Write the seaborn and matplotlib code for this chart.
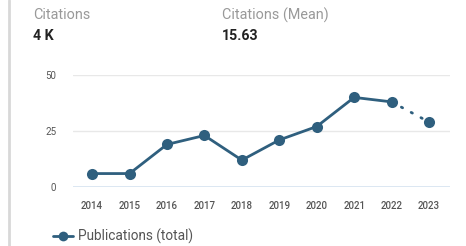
# Publications per year, with citation summary header
import seaborn as sns
import matplotlib.pyplot as plt
import pandas as pd
from matplotlib.lines import Line2D

years = ["2014", "2015", "2016", "2017", "2018", "2019", "2020", "2021", "2022", "2023"]
publications = [6, 6, 19, 23, 12, 21, 27, 40, 38, 29]
y_ticks = [0, 25, 50]

df = pd.DataFrame({"year": years, "pos": range(len(years)), "pubs": publications})

sns.set_style("white")
plt.rcParams["font.family"] = ["Roboto", "DejaVu Sans"]

line_color = "#2f5f7e"

fig = plt.figure(figsize=(4.66, 2.46), dpi=100)
ax = fig.add_axes([73 / 466, 1 - 187 / 246, 377 / 466, 112 / 246])

solid = df.iloc[:-1]
dotted = df.iloc[-2:]
sns.lineplot(data=solid, x="pos", y="pubs", color=line_color, lw=2, marker="o",
             markersize=8, markeredgewidth=0, ax=ax, clip_on=False)
sns.lineplot(data=dotted, x="pos", y="pubs", color=line_color, lw=2, ax=ax,
             linestyle=(0, (0.5, 3.5)), dash_capstyle="round", clip_on=False)
ax.plot(dotted["pos"].iloc[-1], dotted["pubs"].iloc[-1], "o", color=line_color,
        markersize=8, markeredgewidth=0, clip_on=False)

ax.set_xlim(-0.51, 9.56)
ax.set_ylim(0, 50)
ax.set_xticks(df["pos"])
ax.set_xticklabels(years, fontsize=7, color="#555555", fontweight="medium")
ax.set_yticks(y_ticks)
ax.set_yticklabels([str(t) for t in y_ticks], fontsize=7, color="#555555")
ax.tick_params(axis="both", length=0)
ax.tick_params(axis="x", pad=10)
ax.tick_params(axis="y", pad=12)
for t in y_ticks[1:]:
    ax.axhline(t, color="#e8e8e8", lw=1, zorder=0)
ax.axhline(0, color="#d5e3f0", lw=1.2, zorder=0)
for s in ax.spines.values():
    s.set_visible(False)
ax.set_xlabel("")
ax.set_ylabel("")

# header
fig.text(33 / 466, 1 - 15 / 246, "Citations", fontsize=10.4, color="#999999", va="center")
fig.text(33 / 466, 1 - 35.5 / 246, "4 K", fontsize=10.2, color="#222222", fontweight="bold", va="center")
fig.text(222 / 466, 1 - 15 / 246, "Citations (Mean)", fontsize=10.4, color="#999999", va="center")
fig.text(222 / 466, 1 - 35.5 / 246, "15.63", fontsize=10.2, color="#222222", fontweight="bold", va="center")

# legend
handle = Line2D([], [], color=line_color, lw=2, marker="o", markersize=7, markeredgewidth=0)
fig.legend([handle], ["Publications (total)"], loc="center left",
           bbox_to_anchor=(53 / 466, 1 - 236 / 246), frameon=False, fontsize=9.8,
           labelcolor="#555555", handlelength=1.5, handletextpad=0.3,
           borderpad=0, borderaxespad=0)

# card border on the left
fig.add_artist(Line2D([8.5 / 466, 8.5 / 466], [0, 1], color="#d8d8d8", lw=2, transform=fig.transFigure))

fig.savefig("out.png", dpi=100)
